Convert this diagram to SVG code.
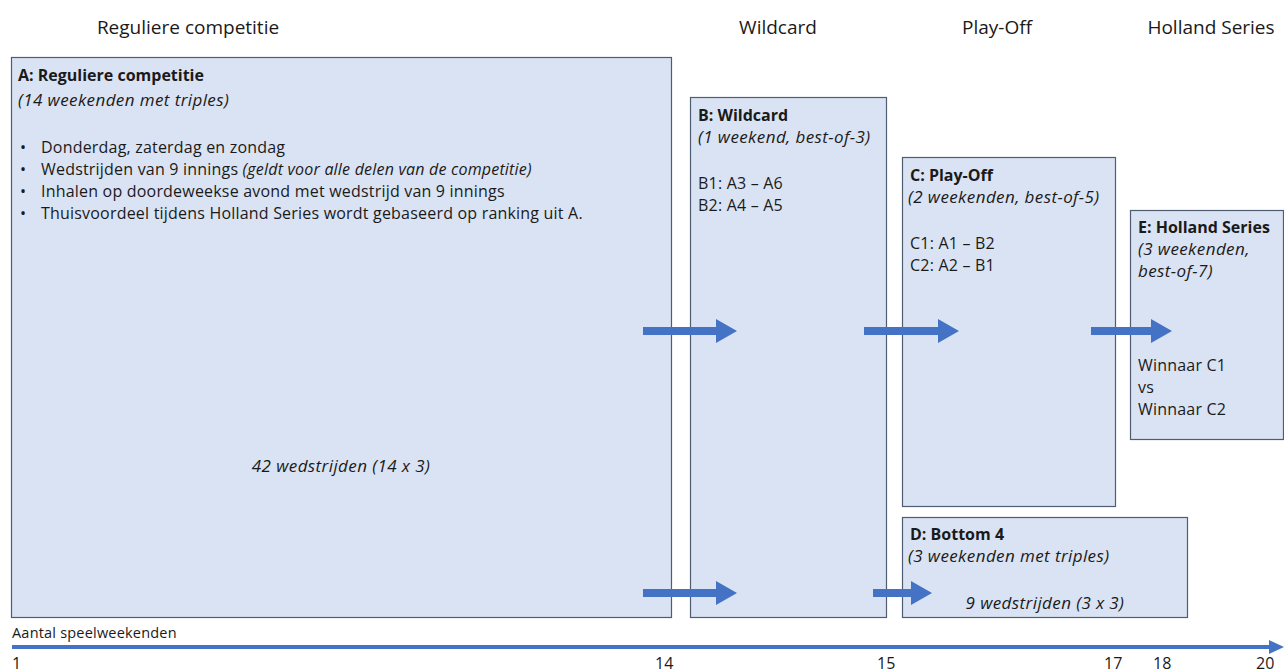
<svg xmlns="http://www.w3.org/2000/svg" width="1284" height="672" viewBox="0 0 1284 672">
<style>
.box{fill:#dae3f3;stroke:#4f5d73;stroke-width:1.2}
.t{font-family:"Open Sans","Liberation Sans",sans-serif;font-size:16px;letter-spacing:0.2px;fill:#1a1a1a}
.b{font-weight:bold;letter-spacing:0}
.i{font-style:italic;font-size:17px;letter-spacing:0.4px}
.h{font-family:"Open Sans","Liberation Sans",sans-serif;font-size:19px;fill:#1a1a1a}
.ax{font-family:"Open Sans","Liberation Sans",sans-serif;font-size:16px;fill:#1a1a1a}
.arr{fill:#4472c4}
</style>
<rect width="1284" height="672" fill="#ffffff"/>
<g id="headers">
<text class="h" x="188" y="34" text-anchor="middle">Reguliere competitie</text>
<text class="h" x="778" y="34" text-anchor="middle">Wildcard</text>
<text class="h" x="997" y="34" text-anchor="middle">Play-Off</text>
<text class="h" x="1211" y="34" text-anchor="middle">Holland Series</text>
</g>
<g id="nodeA">
<rect class="box" x="11.5" y="57.5" width="660" height="560"/>
<text class="t b" x="18" y="81">A: Reguliere competitie</text>
<text class="t i" x="18" y="106">(14 weekenden met triples)</text>
<text class="t" x="20" y="153" font-size="13">•</text><text class="t" x="41" y="153">Donderdag, zaterdag en zondag</text>
<text class="t" x="20" y="175" font-size="13">•</text><text class="t" x="41" y="175">Wedstrijden van 9 innings <tspan style="font-style:italic">(geldt voor alle delen van de competitie)</tspan></text>
<text class="t" x="20" y="197" font-size="13">•</text><text class="t" x="41" y="197">Inhalen op doordeweekse avond met wedstrijd van 9 innings</text>
<text class="t" x="20" y="219" font-size="13">•</text><text class="t" x="41" y="219">Thuisvoordeel tijdens Holland Series wordt gebaseerd op ranking uit A.</text>
<text class="t i" x="341" y="472" text-anchor="middle">42 wedstrijden (14 x 3)</text>
</g>
<g id="nodeB">
<rect class="box" x="690.5" y="97.5" width="196" height="520"/>
<text class="t b" x="698" y="121">B: Wildcard</text>
<text class="t i" x="698" y="143">(1 weekend, best-of-3)</text>
<text class="t" x="698" y="189">B1: A3 – A6</text>
<text class="t" x="698" y="211">B2: A4 – A5</text>
</g>
<g id="nodeC">
<rect class="box" x="902.5" y="157.5" width="213" height="349"/>
<text class="t b" x="910" y="181">C: Play-Off</text>
<text class="t i" x="908" y="203">(2 weekenden, best-of-5)</text>
<text class="t" x="910" y="249">C1: A1 – B2</text>
<text class="t" x="910" y="271">C2: A2 – B1</text>
</g>
<g id="nodeE">
<rect class="box" x="1130.5" y="210.5" width="153" height="229"/>
<text class="t b" x="1138" y="233">E: Holland Series</text>
<text class="t i" x="1138" y="255">(3 weekenden,</text>
<text class="t i" x="1138" y="277">best-of-7)</text>
<text class="t" x="1138" y="371">Winnaar C1</text>
<text class="t" x="1138" y="393">vs</text>
<text class="t" x="1138" y="415">Winnaar C2</text>
</g>
<g id="nodeD">
<rect class="box" x="902.5" y="517.5" width="285" height="100"/>
<text class="t b" x="910" y="540">D: Bottom 4</text>
<text class="t i" x="908" y="562">(3 weekenden met triples)</text>
<text class="t i" x="1045" y="609" text-anchor="middle">9 wedstrijden (3 x 3)</text>
</g>
<g id="connectors">
<polygon class="arr" points="643,327 716,327 716,319 737,331 716,343 716,335 643,335"/>
<polygon class="arr" points="864,327 938,327 938,319 959,331 938,343 938,335 864,335"/>
<polygon class="arr" points="1091,327 1151,327 1151,319 1172,331 1151,343 1151,335 1091,335"/>
<polygon class="arr" points="643,589 716,589 716,581 737,593 716,605 716,597 643,597"/>
<polygon class="arr" points="873,589 911,589 911,581 932,593 911,605 911,597 873,597"/>
</g>
<g id="axis">
<text x="12" y="638" font-family="'Open Sans','Liberation Sans',sans-serif" font-size="14.5" letter-spacing="0.2" fill="#1a1a1a">Aantal speelweekenden</text>
<rect x="12" y="645" width="1258" height="4" fill="#4472c4"/>
<polygon points="1269,640 1284,647 1269,654" fill="#4472c4"/>
<text class="ax" x="12" y="669">1</text>
<text class="ax" x="655" y="669">14</text>
<text class="ax" x="877" y="669">15</text>
<text class="ax" x="1104" y="669">17</text>
<text class="ax" x="1153" y="669">18</text>
<text class="ax" x="1256" y="669">20</text>
</g>
</svg>
